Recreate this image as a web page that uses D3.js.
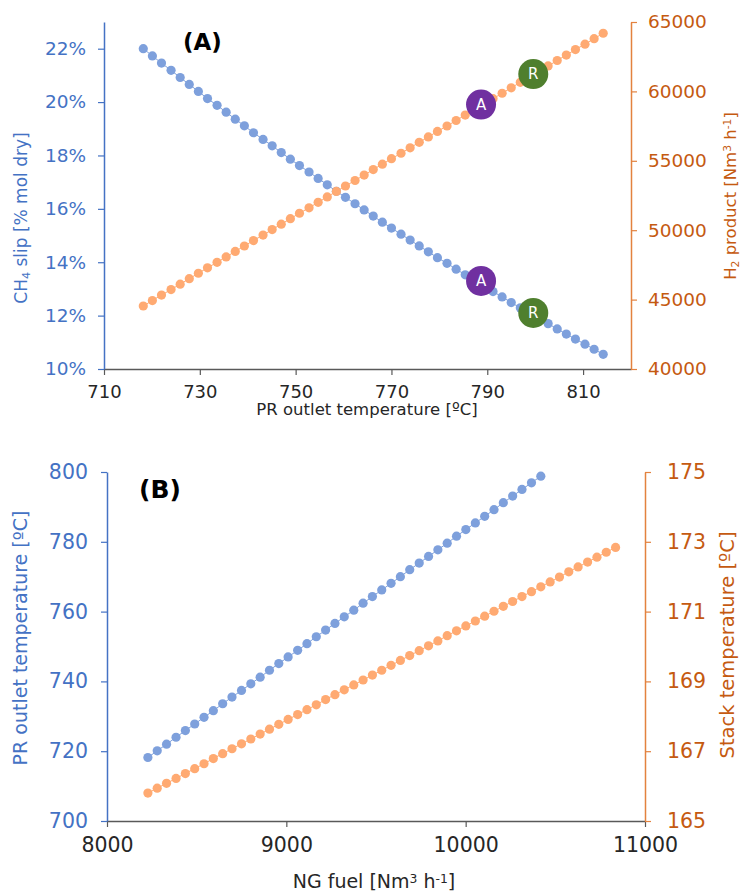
<!DOCTYPE html>
<html>
<head>
<meta charset="utf-8">
<script src="https://cdn.jsdelivr.net/npm/d3@7"></script>
<style>
  body { margin: 0; background: #fff; }
  svg { display: block; font-family: "DejaVu Sans", sans-serif; }
</style>
</head>
<body>
<script>
'use strict';

// shared operating points (51 runs)
const ngFuel = [8228, 8280, 8332, 8385, 8437, 8489, 8541, 8593, 8645, 8697,
  8750, 8802, 8854, 8906, 8958, 9010, 9063, 9115, 9167, 9219,
  9271, 9323, 9376, 9428, 9480, 9532, 9584, 9636, 9688, 9741,
  9793, 9845, 9897, 9949, 10001, 10054, 10106, 10158, 10210, 10262,
  10314, 10367, 10419, 10471, 10523, 10575, 10627, 10680, 10732, 10784, 10836];
const prTemp = [718.2, 720.1, 722.0, 724.0, 725.9, 727.8, 729.7, 731.6, 733.6, 735.5,
  737.4, 739.3, 741.2, 743.2, 745.1, 747.0, 748.9, 750.8, 752.8, 754.7,
  756.6, 758.5, 760.4, 762.4, 764.3, 766.2, 768.1, 770.0, 772.0, 773.9,
  775.8, 777.7, 779.6, 781.6, 783.5, 785.4, 787.3, 789.2, 791.2, 793.1,
  795.0, 796.9, 798.8, 800.8, 802.7, 804.6, 806.5, 808.4, 810.4, 812.3, 814.2];
const ch4Slip = [22.00, 21.73, 21.46, 21.19, 20.92, 20.66, 20.40, 20.13, 19.88, 19.62,
  19.36, 19.11, 18.85, 18.60, 18.36, 18.11, 17.86, 17.62, 17.38, 17.14,
  16.90, 16.66, 16.43, 16.19, 15.96, 15.73, 15.50, 15.28, 15.05, 14.83,
  14.61, 14.39, 14.17, 13.96, 13.74, 13.53, 13.32, 13.11, 12.90, 12.70,
  12.49, 12.29, 12.09, 11.89, 11.70, 11.50, 11.31, 11.12, 10.93, 10.74, 10.55];
const h2Product = [44540, 44933, 45326, 45719, 46112, 46505, 46898, 47291, 47684, 48077,
  48470, 48863, 49256, 49649, 50042, 50435, 50828, 51221, 51614, 52007,
  52400, 52793, 53186, 53579, 53972, 54365, 54758, 55151, 55544, 55937,
  56330, 56723, 57116, 57509, 57902, 58295, 58688, 59081, 59474, 59867,
  60260, 60653, 61046, 61439, 61832, 62225, 62618, 63011, 63404, 63797, 64190];
const stackTemp = [165.80, 165.94, 166.08, 166.22, 166.36, 166.50, 166.64, 166.79, 166.93, 167.07,
  167.21, 167.35, 167.49, 167.63, 167.77, 167.91, 168.05, 168.19, 168.33, 168.48,
  168.62, 168.76, 168.90, 169.04, 169.18, 169.32, 169.46, 169.60, 169.74, 169.88,
  170.02, 170.16, 170.31, 170.45, 170.59, 170.73, 170.87, 171.01, 171.15, 171.29,
  171.43, 171.57, 171.71, 171.85, 171.99, 172.14, 172.28, 172.42, 172.56, 172.70, 172.84];

// annotated cases
const markerLabels = ['A', 'R'];
const markerTemp = [788.7, 799.6];
const markerCh4 = [13.3, 12.1];
const markerH2 = [59050, 61250];
const markerColors = ['#7030A0', '#4F7F2E'];

// ticks
const tempTicksA = [710, 730, 750, 770, 790, 810];
const slipTicks = [10, 12, 14, 16, 18, 20, 22];
const h2Ticks = [40000, 45000, 50000, 55000, 60000, 65000];
const ngTicks = [8000, 9000, 10000, 11000];
const prTicksB = [700, 720, 740, 760, 780, 800];
const stackTicks = [165, 167, 169, 171, 173, 175];

const BLUE = '#4472C4';
const ORANGE = '#C55A11';
const ORANGE_LINE = '#E3823F';
const DOT_BLUE = '#7EA0DC';
const DOT_ORANGE = '#FFAA72';
const DARK = '#262626';

const svg = d3.select('body').append('svg')
  .attr('width', 744).attr('height', 891)
  .attr('viewBox', '0 0 744 891');

const styleAxis = (g, color, textColor, size) => {
  g.select('.domain').attr('stroke', color).attr('stroke-width', 1.5);
  g.selectAll('.tick line').attr('stroke', color).attr('stroke-width', 1.2);
  g.selectAll('.tick text')
    .attr('fill', textColor)
    .attr('font-size', size)
    .attr('font-family', '"DejaVu Sans", sans-serif');
};

const drawSeries = (node, xs, ys, x, y, color) => {
  const pts = xs.map((v, i) => [v, ys[i]])
    .filter(p => p[1] >= y.domain()[0] && p[1] <= y.domain()[1]);
  node.append('path')
    .attr('d', d3.line().x(p => x(p[0])).y(p => y(p[1]))(pts))
    .attr('fill', 'none')
    .attr('stroke', color)
    .attr('stroke-width', 1);
  node.append('g').selectAll('circle')
    .data(pts).join('circle')
      .attr('cx', p => x(p[0]))
      .attr('cy', p => y(p[1]))
      .attr('r', 4.6)
      .attr('fill', color);
};

const drawMarkers = (node, x, y, vals) => {
  const g = node.append('g').selectAll('g')
    .data(markerLabels).join('g')
      .attr('transform', (d, i) => `translate(${x(markerTemp[i])},${y(vals[i])})`);
  g.append('circle')
    .attr('r', 15)
    .attr('fill', (d, i) => markerColors[i]);
  g.append('text')
    .attr('text-anchor', 'middle')
    .attr('dy', '0.36em')
    .attr('font-size', 15)
    .attr('fill', '#fff')
    .text(d => d);
};

const addParts = (t, parts, size) => {
  parts.forEach(([s, kind]) => {
    const sp = t.append('tspan').text(s);
    if (kind === 'sub') sp.attr('font-size', size * 0.65).attr('baseline-shift', '-25%');
    if (kind === 'sup') sp.attr('font-size', size * 0.65).attr('baseline-shift', '45%');
  });
};

// rotated title with sub/superscript pieces: [text, 'sub'|'sup'|null]
const vTitle = (x, y, parts, color, size) => {
  const t = svg.append('text')
    .attr('transform', `translate(${x},${y}) rotate(-90)`)
    .attr('text-anchor', 'middle')
    .attr('fill', color)
    .attr('font-size', size);
  addParts(t, parts, size);
  return t;
};

// ---------- panel A ----------
const xA = d3.scaleLinear().domain([710, 820]).range([104, 631]);
const ySlip = d3.scaleLinear().domain([10, 23]).range([369, 22]);
const yH2 = d3.scaleLinear().domain([40000, 65000]).range([369, 22]);

const gA = svg.append('g');

gA.append('g')
  .attr('transform', 'translate(0,369)')
  .call(d3.axisBottom(xA).tickValues(tempTicksA).tickSize(6).tickSizeOuter(0).tickPadding(10))
  .call(g => styleAxis(g, '#595959', DARK, 18));

gA.append('g')
  .attr('transform', 'translate(104,0)')
  .call(d3.axisLeft(ySlip).tickValues(slipTicks).tickSize(6).tickSizeOuter(0).tickPadding(12)
    .tickFormat(d => d + '%'))
  .call(g => styleAxis(g, BLUE, BLUE, 18.5));

gA.append('g')
  .attr('transform', 'translate(631,0)')
  .call(d3.axisRight(yH2).tickValues(h2Ticks).tickSize(6).tickSizeOuter(0).tickPadding(11)
    .tickFormat(d3.format('d')))
  .call(g => styleAxis(g, ORANGE_LINE, ORANGE, 18.5));

drawSeries(gA, prTemp, ch4Slip, xA, ySlip, DOT_BLUE);
drawSeries(gA, prTemp, h2Product, xA, yH2, DOT_ORANGE);
drawMarkers(gA, xA, yH2, markerH2);
drawMarkers(gA, xA, ySlip, markerCh4);

gA.append('text')
  .attr('x', 183).attr('y', 50)
  .attr('font-size', 23).attr('font-weight', 'bold')
  .attr('fill', '#000')
  .text('(A)');

svg.append('text')
  .attr('x', 367).attr('y', 415)
  .attr('text-anchor', 'middle')
  .attr('font-size', 16.5)
  .attr('fill', DARK)
  .text('PR outlet temperature [ºC]');

vTitle(27, 218, [['CH', null], ['4', 'sub'], [' slip [% mol dry]', null]], BLUE, 17);
vTitle(736, 196, [['H', null], ['2', 'sub'], [' product [Nm', null], ['3', 'sup'], [' h', null], ['-1', 'sup'], [']', null]], ORANGE, 16.5);

// ---------- panel B ----------
const xB = d3.scaleLinear().domain([8000, 11000]).range([107, 645]);
const yPR = d3.scaleLinear().domain([700, 800]).range([821, 472]);
const yStack = d3.scaleLinear().domain([165, 175]).range([821, 472]);

const gB = svg.append('g');

gB.append('g')
  .attr('transform', 'translate(0,821)')
  .call(d3.axisBottom(xB).tickValues(ngTicks).tickSize(6).tickSizeOuter(0).tickPadding(10)
    .tickFormat(d3.format('d')))
  .call(g => styleAxis(g, '#595959', DARK, 20.5));

gB.append('g')
  .attr('transform', 'translate(107,0)')
  .call(d3.axisLeft(yPR).tickValues(prTicksB).tickSize(6).tickSizeOuter(0).tickPadding(13))
  .call(g => styleAxis(g, BLUE, BLUE, 20.5));

gB.append('g')
  .attr('transform', 'translate(645,0)')
  .call(d3.axisRight(yStack).tickValues(stackTicks).tickSize(6).tickSizeOuter(0).tickPadding(16))
  .call(g => styleAxis(g, ORANGE_LINE, ORANGE, 20.5));

drawSeries(gB, ngFuel, prTemp, xB, yPR, DOT_BLUE);
drawSeries(gB, ngFuel, stackTemp, xB, yStack, DOT_ORANGE);

gB.append('text')
  .attr('x', 139).attr('y', 498)
  .attr('font-size', 25).attr('font-weight', 'bold')
  .attr('fill', '#000')
  .text('(B)');

const tB = svg.append('text')
  .attr('x', 374).attr('y', 888)
  .attr('text-anchor', 'middle')
  .attr('font-size', 19)
  .attr('fill', DARK);
addParts(tB, [['NG fuel [Nm', null], ['3', 'sup'], [' h', null], ['-1', 'sup'], [']', null]], 19);

vTitle(27, 638, [['PR outlet temperature [ºC]', null]], BLUE, 19);
vTitle(734, 645, [['Stack temperature [ºC]', null]], ORANGE, 19.5);
</script>
</body>
</html>
